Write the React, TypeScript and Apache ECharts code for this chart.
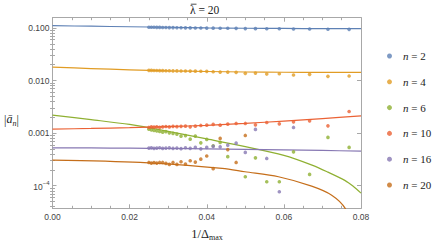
import React, { useEffect, useRef } from "react";
import * as echarts from "echarts";

// x positions: 1/Delta_max for Delta_max = 40 ... 13
const invDeltaMax = [
  0.025, 0.02564, 0.02632, 0.02703, 0.02778, 0.02857, 0.02941, 0.0303, 0.03125, 0.03226,
  0.03333, 0.03448, 0.03571, 0.03704, 0.03846, 0.04, 0.04167, 0.04348, 0.04545, 0.04762,
  0.05, 0.05263, 0.05556, 0.05882, 0.0625, 0.06667, 0.07143, 0.07692,
];

const seriesNames = ["n = 2", "n = 4", "n = 6", "n = 10", "n = 16", "n = 20"];
const colors = ["#5e81b5", "#e19c24", "#8fb032", "#eb6235", "#8778b3", "#c56e1a"];

const n2 = [
  0.1036, 0.1034, 0.1031, 0.1029, 0.1026, 0.1024, 0.1021, 0.1018, 0.1016, 0.1013,
  0.101, 0.1007, 0.1004, 0.1001, 0.0998, 0.0995, 0.0993, 0.099, 0.0988, 0.0985,
  0.0975, 0.0972, 0.097, 0.0968, 0.0958, 0.0956, 0.0946, 0.0944,
];
const n4 = [
  0.01565, 0.0156, 0.01555, 0.01552, 0.01548, 0.01545, 0.0154, 0.01536, 0.01532, 0.01528,
  0.01524, 0.0152, 0.01515, 0.0151, 0.01505, 0.01497, 0.0147, 0.01451, 0.01451, 0.01432,
  0.01371, 0.01389, 0.0133, 0.01347, 0.01274, 0.01313, 0.01202, 0.01219,
];
const n6 = [
  1.191e-3, 1.156e-3, 1.126e-3, 1.106e-3, 1.077e-3, 1.045e-3, 1.068e-3, 1.013e-3, 0.987e-3, 0.957e-3,
  0.877e-3, 0.897e-3, 0.769e-3, 0.877e-3, 0.654e-3, 0.759e-3, 0.574e-3, 0.666e-3, 0.357e-3, null,
  0.148e-3, 0.339e-3, 0.119e-3, 0.119e-3, 0.441e-3, 0.164e-3, 0.829e-3, 0.535e-3,
];
const n10 = [
  1.283e-3, 1.312e-3, 1.3e-3, 1.318e-3, 1.289e-3, 1.318e-3, 1.335e-3, 1.312e-3, 1.347e-3, 1.329e-3,
  1.347e-3, 1.359e-3, 1.318e-3, 1.359e-3, 1.401e-3, 1.419e-3, 1.464e-3, 1.419e-3, 1.483e-3, 1.529e-3,
  1.529e-3, 1.438e-3, 1.597e-3, 1.503e-3, 1.64e-3, 1.714e-3, 1.376e-3, 2.585e-3,
];
const n16 = [
  5.19e-4, 5.23e-4, 5.14e-4, 5.19e-4, 5.26e-4, 5.12e-4, 5.19e-4, 5.23e-4, 5.12e-4, 5.19e-4,
  5.07e-4, 5.26e-4, 5.14e-4, 5.35e-4, 5.03e-4, 5.35e-4, 5.59e-4, 5.49e-4, 5.91e-4, 6.45e-4,
  4.3e-4, 1.176e-3, 3.3e-4, 7.66e-5, 1.283e-3, null, null, null,
];
const n20 = [
  2.77e-4, 2.69e-4, 2.75e-4, 2.69e-4, 2.77e-4, 2.77e-4, 2.66e-4, 2.54e-4, 2.77e-4, 2.54e-4,
  2.85e-4, 2.57e-4, 2.98e-4, 2.81e-4, 3.2e-4, 3.68e-4, 2.11e-4, 7.93e-4, 4.86e-4, 2.77e-4,
  9.04e-4, null, null, null, null, null, null, null,
];

// fitted curves
const fitX = [0, 0.01, 0.02, 0.03, 0.04, 0.05, 0.06, 0.07, 0.08];
const fit2 = [0.1106, 0.1081, 0.1057, 0.1033, 0.1009, 0.099, 0.098, 0.0974, 0.097];
const fit4 = [0.01807, 0.0169, 0.01603, 0.01535, 0.01489, 0.01456, 0.01438, 0.01432, 0.01432];
const fit10 = [1.191e-3, 1.228e-3, 1.272e-3, 1.335e-3, 1.407e-3, 1.529e-3, 1.699e-3, 1.895e-3, 2.133e-3];
const fit16 = [5.26e-4, 5.22e-4, 5.17e-4, 5.1e-4, 5.03e-4, 4.92e-4, 4.8e-4, 4.68e-4, 4.55e-4];
const fit6X = [0, 0.01, 0.02, 0.03, 0.04, 0.05, 0.06, 0.0673, 0.0714, 0.0759, 0.0779, 0.08];
const fit6 = [
  2.198e-3, 1.806e-3, 1.463e-3, 1.082e-3, 7.756e-4, 5.537e-4, 3.767e-4, 2.463e-4, 1.814e-4, 1.25e-4,
  9.83e-5, 7.23e-5,
];
const fit20X = [0, 0.0227, 0.044, 0.0499, 0.0586, 0.0672, 0.0724, 0.0759, 0.078];
const fit20 = [3.07e-4, 2.77e-4, 2.13e-4, 1.84e-4, 1.48e-4, 9.8e-5, 6.6e-5, 3.7e-5, 1.3e-5];

const xTicks = [0, 0.02, 0.04, 0.06, 0.08];
const yMajorExp = [-4, -3, -2, -1];
const yMin = -4.43;
const yMax = -0.804;

const SERIF = "'Liberation Serif', 'Times New Roman', serif";
const SANS = "'Liberation Sans', Arial, sans-serif";
const FRAME = "#a8a8a8";
const LABEL = "#444";

function App() {
  const ref = useRef<HTMLDivElement>(null);
  useEffect(() => {
    if (!ref.current) return;
    const chart = echarts.init(ref.current, null, { renderer: "svg" });

    const yMinor: number[] = [];
    for (let e = -5; e <= -1; e++) {
      for (let k = 2; k <= 9; k++) {
        const v = Math.log10(k) + e;
        if (v > yMin && v < yMax) yMinor.push(v);
      }
    }

    const pts = [n2, n4, n6, n10, n16, n20];
    const fits: [number[], number[]][] = [
      [fitX, fit2],
      [fitX, fit4],
      [fit6X, fit6],
      [fitX, fit10],
      [fitX, fit16],
      [fit20X, fit20],
    ];

    const series: any[] = [];
    fits.forEach(([xs, ys], i) => {
      series.push({
        type: "line",
        name: "fit " + seriesNames[i],
        data: xs.map((x, j) => [x, Math.log10(ys[j])]),
        showSymbol: false,
        smooth: 0.3,
        clip: true,
        lineStyle: { color: colors[i], width: 1.2 },
        itemStyle: { color: colors[i] },
        xAxisIndex: 0,
        yAxisIndex: 0,
        silent: true,
        z: 2,
      });
    });
    pts.forEach((vals, i) => {
      series.push({
        type: "scatter",
        name: seriesNames[i],
        data: invDeltaMax
          .map((x, j) => (vals[j] == null ? null : [x, Math.log10(vals[j] as number)]))
          .filter((d) => d !== null),
        symbol: "circle",
        symbolSize: 3.6,
        itemStyle: { color: colors[i] },
        xAxisIndex: 0,
        yAxisIndex: 0,
        z: 3,
      });
    });

    const xCommon = {
      type: "value",
      min: 0,
      max: 0.08,
      interval: 0.02,
      axisLine: { show: true, onZero: false, lineStyle: { color: FRAME, width: 1 } },
      axisTick: { show: true, inside: true, length: 4, lineStyle: { color: FRAME } },
      minorTick: { show: true, splitNumber: 4, length: 2.5, lineStyle: { color: FRAME } },
      splitLine: { show: false },
      minorSplitLine: { show: false },
    };
    const yCommon = {
      type: "value",
      min: yMin,
      max: yMax,
      splitLine: { show: false },
    };

    const option: any = {
      animation: false,
      backgroundColor: "#ffffff",
      grid: { left: 52.5, top: 17.7, width: 308.5, height: 190.6, containLabel: false },
      xAxis: [
        {
          ...xCommon,
          position: "bottom",
          axisLabel: {
            show: true,
            margin: 4,
            fontSize: 8.5,
            fontFamily: SANS,
            color: LABEL,
            customValues: xTicks,
            formatter: (v: number) => v.toFixed(2),
          },
        },
        { ...xCommon, position: "top", axisLabel: { show: false } },
      ],
      yAxis: [
        {
          ...yCommon,
          position: "left",
          axisLine: { show: true, onZero: false, lineStyle: { color: FRAME, width: 1 } },
          axisTick: { show: true, inside: true, length: 4, customValues: yMajorExp, lineStyle: { color: FRAME } },
          axisLabel: {
            show: true,
            margin: 3,
            fontSize: 8.5,
            fontFamily: SANS,
            color: LABEL,
            customValues: yMajorExp,
            formatter: (v: number) => {
              const r = Math.round(v);
              if (r <= -4) return "{b|10}{s|\u2212" + -r + "}";
              return Math.pow(10, r).toFixed(3);
            },
            rich: {
              b: { fontSize: 8.5, fontFamily: SANS, color: LABEL, lineHeight: 11, verticalAlign: "bottom" },
              s: { fontSize: 6, fontFamily: SANS, color: LABEL, lineHeight: 11, verticalAlign: "top" },
            },
          },
        },
        {
          ...yCommon,
          position: "left",
          axisLine: { show: false },
          axisTick: { show: true, inside: true, length: 2.5, customValues: yMinor, lineStyle: { color: FRAME } },
          axisLabel: { show: false },
        },
        {
          ...yCommon,
          position: "right",
          axisLine: { show: true, onZero: false, lineStyle: { color: FRAME, width: 1 } },
          axisTick: { show: true, inside: true, length: 4, customValues: yMajorExp, lineStyle: { color: FRAME } },
          axisLabel: { show: false },
        },
        {
          ...yCommon,
          position: "right",
          axisLine: { show: false },
          axisTick: { show: true, inside: true, length: 2.5, customValues: yMinor, lineStyle: { color: FRAME } },
          axisLabel: { show: false },
        },
      ],
      legend: {
        data: seriesNames,
        orient: "vertical",
        left: 387,
        top: 50,
        padding: 0,
        itemWidth: 5,
        itemHeight: 5,
        itemGap: 13.8,
        icon: "circle",
        selectedMode: false,
        formatter: (name: string) => "{i|n}" + name.slice(1),
        textStyle: {
          fontFamily: SERIF,
          fontSize: 11,
          color: "#222",
          lineHeight: 12,
          padding: [0, 0, 0, 6],
          rich: {
            i: { fontFamily: SERIF, fontSize: 11, fontStyle: "italic", color: "#222", lineHeight: 12 },
          },
        },
      },
      graphic: [
        {
          type: "text",
          x: 190,
          y: 9.5,
          style: {
            text: "\u03BB = 20",
            fontFamily: SERIF,
            fontSize: 11.5,
            fill: "#222",
            align: "left",
            verticalAlign: "middle",
          },
        },
        {
          type: "line",
          shape: { x1: 190.8, y1: 4.2, x2: 196.5, y2: 4.2 },
          style: { stroke: "#222", lineWidth: 0.8 },
        },
        {
          type: "text",
          x: 11.5,
          y: 120,
          style: {
            text: "|{i|\u0101}{s|n}|",
            fontFamily: SERIF,
            fontSize: 12,
            fill: "#222",
            align: "center",
            verticalAlign: "middle",
            rich: {
              i: { fontFamily: SERIF, fontSize: 12, fontStyle: "italic", fill: "#222", lineHeight: 15, verticalAlign: "top" },
              s: { fontFamily: SERIF, fontSize: 8, fontStyle: "italic", fill: "#222", lineHeight: 15, verticalAlign: "bottom" },
            },
          },
        },
        {
          type: "text",
          x: 207,
          y: 234,
          style: {
            text: "1/\u0394{s|max}",
            fontFamily: SERIF,
            fontSize: 12.5,
            fill: "#222",
            align: "center",
            verticalAlign: "middle",
            rich: {
              s: { fontFamily: SERIF, fontSize: 8, fill: "#222", lineHeight: 15, verticalAlign: "bottom" },
            },
          },
        },
      ],
      series,
    };
    chart.setOption(option);
    return () => chart.dispose();
  }, []);

  return (
    <div
      ref={ref}
      style={{ position: "fixed", left: 0, top: 0, width: 444, height: 245, background: "#fff" }}
    />
  );
}

export default App;
